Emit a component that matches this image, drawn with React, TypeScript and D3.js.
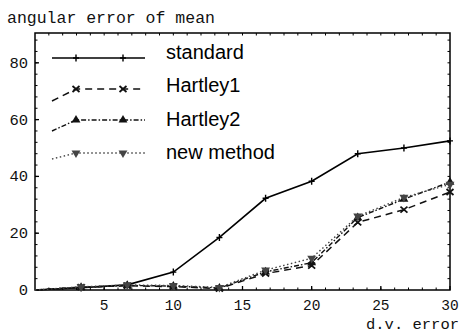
import React from 'react';
import * as d3 from 'd3';

const width = 462;
const height = 333;

const margin = { top: 33, right: 12, bottom: 43, left: 35 };

// x values (d.v. error)
const dvError = [0, 3.33, 6.67, 10, 13.33, 16.67, 20, 23.33, 26.67, 30];

// series values (angular error of mean)
const standard = [0, 0.8, 1.8, 6.3, 18.5, 32.3, 38.3, 48.0, 50.0, 52.5];
const hartley1 = [0, 1.0, 1.5, 1.2, 0.5, 5.8, 8.6, 23.8, 28.3, 34.5];
const hartley2 = [0, 0.9, 1.6, 1.4, 0.7, 6.4, 9.6, 25.5, 32.0, 38.0];
const newMethod = [0, 1.1, 1.8, 1.6, 0.9, 7.0, 11.2, 26.0, 32.6, 37.2];

const seriesNames = ['standard', 'Hartley1', 'Hartley2', 'new method'];
const xTicks = [5, 10, 15, 20, 25, 30];
const yTicks = [0, 20, 40, 60, 80];

const mono = '"Liberation Mono", "DejaVu Sans Mono", monospace';
const sans = '"Liberation Sans", Arial, sans-serif';

const styles = [
  { dash: null, color: '#000', width: 1.6, marker: 'plus' },
  { dash: '7,5', color: '#111', width: 1.5, marker: 'x' },
  { dash: '5,2,1.5,2', color: '#111', width: 1.4, marker: 'up' },
  { dash: '1.5,2.5', color: '#444', width: 1.4, marker: 'down' },
];

const Marker = ({ kind, x, y, color }: { kind: string; x: number; y: number; color: string }) => {
  if (kind === 'plus') {
    return <path d="M-3,0H3M0,-3.5V3.5" transform={`translate(${x},${y})`} stroke={color} strokeWidth={1.4} />;
  }
  if (kind === 'x') {
    return <path d="M-3.5,-3L3.5,3M-3.5,3L3.5,-3" transform={`translate(${x},${y})`} stroke={color} strokeWidth={1.8} />;
  }
  const tri = d3.symbol().type(d3.symbolTriangle).size(34)() as string;
  return (
    <path d={tri} transform={`translate(${x},${y}) rotate(${kind === 'down' ? 180 : 0})`} fill={color} />
  );
};

const App = () => {
  const xScale = d3.scaleLinear().domain([0, 30]).range([margin.left, width - margin.right]);
  const yScale = d3.scaleLinear().domain([0, 90.5]).range([height - margin.bottom, margin.top]);

  const allSeries = [standard, hartley1, hartley2, newMethod];
  const line = d3
    .line<[number, number]>()
    .x(d => xScale(d[0]))
    .y(d => yScale(d[1]));

  const x0 = xScale.range()[0];
  const x1 = xScale.range()[1];
  const y0 = yScale.range()[0];
  const y1 = yScale.range()[1];

  const xMinor = d3.range(1, 30, 1);
  const yMinor = d3.range(4, 90, 4);

  // legend layout
  const legendX = [52, 76, 123, 145];
  const legendY = [58, 89, 120, 153];
  const legendSlope = [0, 12, 11, 6];
  const legendTextY = [52, 85, 119, 152];

  return (
    <svg width={width} height={height} style={{ position: 'absolute', left: 0, top: 0, background: '#fff' }}>
      <text x={7} y={23} fontFamily={mono} fontSize={16.5} fill="#111">
        angular error of mean
      </text>

      {/* frame */}
      <rect x={x0} y={y1} width={x1 - x0} height={y0 - y1} fill="none" stroke="#000" strokeWidth={1.5} />

      {/* minor ticks */}
      {xMinor.map(v => (
        <g key={'xm' + v}>
          <line x1={xScale(v)} x2={xScale(v)} y1={y0} y2={y0 - 2.5} stroke="#000" strokeWidth={1} />
          <line x1={xScale(v)} x2={xScale(v)} y1={y1} y2={y1 + 2.5} stroke="#000" strokeWidth={1} />
        </g>
      ))}
      {yMinor.map(v => (
        <g key={'ym' + v}>
          <line x1={x0} x2={x0 + 2.5} y1={yScale(v)} y2={yScale(v)} stroke="#000" strokeWidth={1} />
          <line x1={x1} x2={x1 - 2.5} y1={yScale(v)} y2={yScale(v)} stroke="#000" strokeWidth={1} />
        </g>
      ))}

      {/* y tick labels */}
      {yTicks.map(v => (
        <g key={'yt' + v}>
          <line x1={x0} x2={x0 + 4} y1={yScale(v)} y2={yScale(v)} stroke="#000" strokeWidth={1.3} />
          <text x={28} y={yScale(v) + 5} textAnchor="end" fontFamily={mono} fontSize={15.5} fill="#111">
            {v}
          </text>
        </g>
      ))}

      {/* x tick labels */}
      {xTicks.map(v => (
        <g key={'xt' + v}>
          <line x1={xScale(v)} x2={xScale(v)} y1={y0} y2={y0 - 4} stroke="#000" strokeWidth={1.3} />
          <text x={xScale(v)} y={310} textAnchor="middle" fontFamily={mono} fontSize={14.5} fill="#111">
            {v}
          </text>
        </g>
      ))}
      <text x={459} y={329} textAnchor="end" fontFamily={mono} fontSize={15.5} fill="#111">
        d.v. error
      </text>

      {/* series */}
      {allSeries.map((s, i) => {
        const pts = s.map((v, j) => [dvError[j], v] as [number, number]);
        const st = styles[i];
        return (
          <g key={'s' + i}>
            <path
              d={line(pts) as string}
              fill="none"
              stroke={st.color}
              strokeWidth={st.width}
              strokeDasharray={st.dash || undefined}
            />
            {pts.slice(1).map((p, j) => (
              <Marker key={j} kind={st.marker} x={xScale(p[0])} y={yScale(p[1])} color={st.color} />
            ))}
          </g>
        );
      })}

      {/* legend */}
      {seriesNames.map((name, i) => {
        const st = styles[i];
        const ly = legendY[i];
        const pts: [number, number][] = legendX.map((lx, k) => [lx, k === 0 ? ly + legendSlope[i] : ly]);
        return (
          <g key={'lg' + i}>
            <path
              d={d3.line()(pts) as string}
              fill="none"
              stroke={st.color}
              strokeWidth={st.width}
              strokeDasharray={st.dash || undefined}
            />
            <Marker kind={st.marker} x={legendX[1]} y={ly} color={st.color} />
            <Marker kind={st.marker} x={legendX[2]} y={ly} color={st.color} />
            <text x={166} y={legendTextY[i] + 7} fontFamily={sans} fontSize={20} fill="#000">
              {name}
            </text>
          </g>
        );
      })}
    </svg>
  );
};

export default App;
